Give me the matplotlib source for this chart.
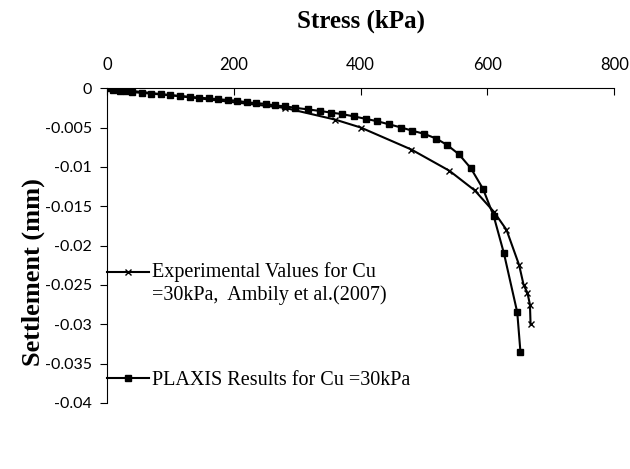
import matplotlib
matplotlib.use("Agg")
import matplotlib.pyplot as plt
from matplotlib.legend_handler import HandlerLine2D

# experimental values, Cu = 30 kPa (Ambily et al. 2007)
exp_stress = [0, 280, 360, 400, 480, 540, 580, 610, 630, 650, 657, 663, 667, 668]
exp_settle = [0, -0.0025, -0.004, -0.005, -0.0078, -0.0105, -0.013, -0.0157,
              -0.018, -0.0225, -0.025, -0.026, -0.0275, -0.030]

# PLAXIS results, Cu = 30 kPa
plx_stress = [0, 10, 20, 30, 40, 55, 70, 85, 100, 115, 130, 145, 160, 175, 190,
              205, 220, 235, 250, 265, 280, 297, 317, 336, 353, 371, 390, 408,
              426, 445, 464, 481, 500, 519, 536, 555, 574, 593, 610, 626, 647, 652]
plx_settle = [0, -0.0002, -0.0003, -0.0004, -0.0005, -0.0006, -0.0007, -0.0008,
              -0.0009, -0.0010, -0.0011, -0.0012, -0.0013, -0.0014, -0.0015,
              -0.0016, -0.0018, -0.0019, -0.0020, -0.0022, -0.0023, -0.0025,
              -0.0027, -0.0029, -0.0031, -0.0033, -0.0036, -0.0039, -0.0042,
              -0.0046, -0.0050, -0.0054, -0.0058, -0.0064, -0.0072, -0.0084,
              -0.0102, -0.0128, -0.0163, -0.021, -0.0285, -0.0335]

x_ticks = [0, 200, 400, 600, 800]
y_ticks = [0, -0.005, -0.01, -0.015, -0.02, -0.025, -0.03, -0.035, -0.04]
y_labels = ["0", "-0.005", "-0.01", "-0.015", "-0.02", "-0.025", "-0.03", "-0.035", "-0.04"]

tick_font = ["Lato", "DejaVu Sans"]
serif = ["Liberation Serif", "DejaVu Serif"]


class RaisedLine(HandlerLine2D):
    # puts the legend handle level with the first line of a two-line label
    def __init__(self, shift=0.0, **kw):
        super().__init__(**kw)
        self.shift = shift

    def create_artists(self, legend, orig_handle, xdescent, ydescent, width,
                       height, fontsize, trans):
        arts = super().create_artists(legend, orig_handle, xdescent, ydescent,
                                      width, height, fontsize, trans)
        for a in arts:
            a.set_ydata([y + self.shift * fontsize for y in a.get_ydata()])
        return arts


fig = plt.figure(figsize=(6.3, 4.69), dpi=100)
ax = fig.add_axes([0.170, 0.141, 0.805, 0.671])

l1, = ax.plot(exp_stress, exp_settle, color="black", lw=1.5, marker="x", ms=5,
              mew=1.0, label="Experimental Values for Cu\n=30kPa,  Ambily et al.(2007)")
l2, = ax.plot(plx_stress, plx_settle, color="black", lw=1.5, marker="s", ms=4,
              label="PLAXIS Results for Cu =30kPa")

ax.set_xlim(0, 800)
ax.set_ylim(-0.04, 0)
ax.xaxis.tick_top()
ax.xaxis.set_label_position("top")
ax.set_xticks(x_ticks)
ax.set_xticklabels([str(v) for v in x_ticks], family=tick_font, fontsize=12)
ax.set_yticks(y_ticks)
ax.set_yticklabels(y_labels, family=tick_font, fontsize=11.5)
ax.tick_params(axis="x", direction="in", length=5, pad=11)
ax.tick_params(axis="y", direction="out", length=5, pad=6)

ax.spines["right"].set_visible(False)
ax.spines["bottom"].set_visible(False)

ax.set_xlabel("Stress (kPa)", family=serif, fontweight="bold", fontsize=18, labelpad=21)
ax.set_ylabel("Settlement (mm)", family=serif, fontweight="bold", fontsize=19)
ax.yaxis.set_label_coords(-0.122, 0.416)

ax.legend(handles=[l1, l2], loc="upper left", bbox_to_anchor=(0.0, 0.447),
          frameon=False, prop={"family": serif, "size": 14.5},
          handlelength=2.1, handletextpad=0.15, labelspacing=3.3,
          borderaxespad=0, borderpad=0,
          handler_map={l1: RaisedLine(shift=0.58), l2: HandlerLine2D()})

fig.savefig("out.png", dpi=100)
